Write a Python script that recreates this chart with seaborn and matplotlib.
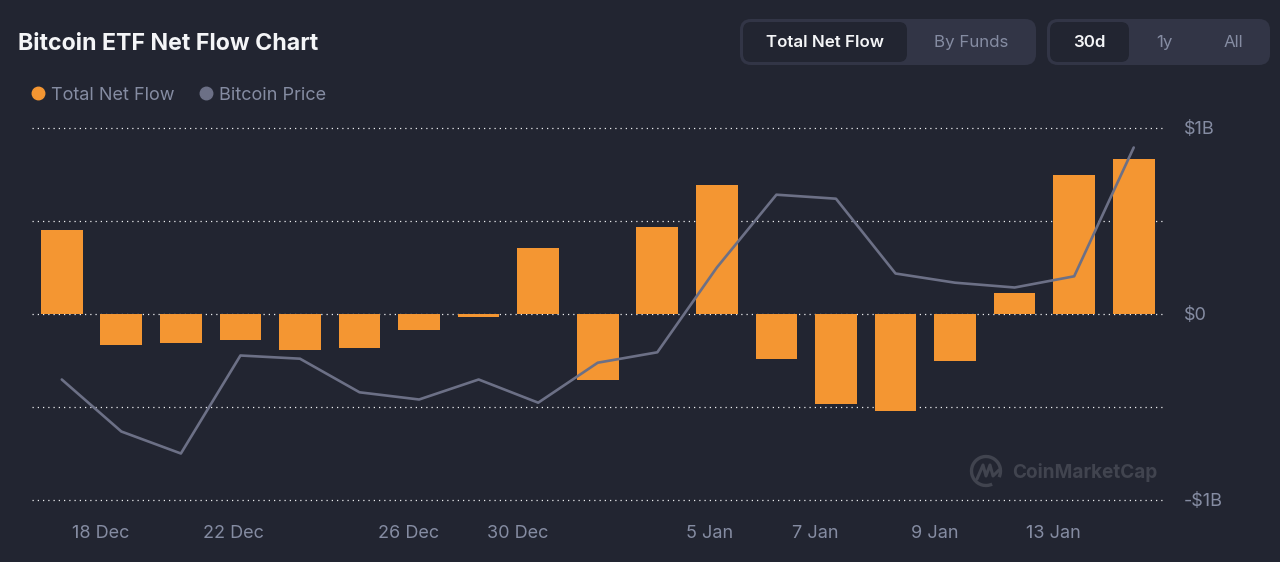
import matplotlib
matplotlib.use("Agg")
import matplotlib.pyplot as plt
import pandas as pd
import seaborn as sns
from matplotlib.lines import Line2D
from matplotlib.patches import Arc, FancyBboxPatch

# daily values
days = ["17 Dec", "18 Dec", "20 Dec", "22 Dec", "23 Dec", "24 Dec", "26 Dec", "27 Dec", "30 Dec", "31 Dec",
        "2 Jan", "5 Jan", "6 Jan", "7 Jan", "8 Jan", "9 Jan", "10 Jan", "13 Jan", "14 Jan"]
net_flow = [0.447, -0.167, -0.161, -0.145, -0.194, -0.183, -0.091, -0.02, 0.35, -0.355,
            0.463, 0.689, -0.242, -0.489, -0.522, -0.253, 0.11, 0.742, 0.828]
# price in $k, its axis is hidden in the original
btc_price = [94.2, 92.9, 92.35, 94.8, 94.72, 93.88, 93.7, 94.2, 93.62, 94.62,
             94.88, 97.0, 98.82, 98.72, 96.85, 96.62, 96.5, 96.78, 100.0]

tick_labels = ["18 Dec", "22 Dec", "26 Dec", "30 Dec", "5 Jan", "7 Jan", "9 Jan", "13 Jan"]
tick_pos = [0.66, 2.89, 5.83, 7.65, 10.88, 12.65, 14.66, 16.65]
y_ticks = [-1, -0.5, 0, 0.5, 1]
y_labels = ["-$1B", "", "$0", "", "$1B"]

BG = "#222531"
PANEL = "#323546"
ORANGE = "#F49632"
LINE = "#6C7086"
GREY = "#858CA2"
WHITE = "#F4F5F7"
MARK = "#41444F"

sns.set_theme(style="dark")
plt.rcParams["font.family"] = ["Inter", "DejaVu Sans"]

df = pd.DataFrame({"day": days, "net_flow": net_flow, "btc_price": btc_price})

fig = plt.figure(figsize=(12.8, 5.62), dpi=100, facecolor=BG)

# header, buttons and watermark sit on a full size layer in pixel coordinates
bg = fig.add_axes([0, 0, 1, 1], zorder=0)
bg.set_xlim(0, 1280)
bg.set_ylim(562, 0)
bg.axis("off")


def button(x0, y0, x1, y1, color, radius):
    bg.add_patch(FancyBboxPatch((x0, y0), x1 - x0, y1 - y0, boxstyle=f"round,pad=0,rounding_size={radius}",
                                fc=color, ec="none"))


button(740, 19, 1036, 65, PANEL, 11)
button(743, 22, 907, 62, BG, 8)
button(1047, 19, 1270, 65, PANEL, 11)
button(1050, 22, 1129, 62, BG, 8)

bg.text(18, 44, "Bitcoin ETF Net Flow Chart", color=WHITE, fontsize=16.7, fontweight="bold", va="center")
bg.text(825, 42.5, "Total Net Flow", color=WHITE, fontsize=12.2, fontweight="semibold", ha="center", va="center")
bg.text(971, 42.5, "By Funds", color=GREY, fontsize=12.2, ha="center", va="center")
bg.text(1089.5, 42.5, "30d", color=WHITE, fontsize=12.2, fontweight="semibold", ha="center", va="center")
bg.text(1164, 42.5, "1y", color=GREY, fontsize=12.2, ha="center", va="center")
bg.text(1233, 42.5, "All", color=GREY, fontsize=12.2, ha="center", va="center")

# CoinMarketCap mark
bg.add_patch(Arc((986, 471), 29, 29, theta1=65, theta2=25, ec=MARK, lw=2.4))
bg.add_line(Line2D([977, 983, 986, 990, 993, 999], [479, 465, 476, 465, 476, 470], color=MARK, lw=2.2))
bg.text(1012, 472, "CoinMarketCap", color=MARK, fontsize=13.7, fontweight="bold", va="center")

ax = fig.add_axes([32 / 1280, 62.5 / 562, 1131.5 / 1280, 372 / 562], zorder=1)
ax.set_facecolor("none")

sns.barplot(data=df, x="day", y="net_flow", color=ORANGE, saturation=1, width=0.7, ax=ax, zorder=3,
            edgecolor="none", linewidth=0)

ax2 = ax.twinx()
ax2.set_zorder(2)
ax2.set_facecolor("none")
sns.lineplot(data=df, x="day", y="btc_price", sort=False, color=LINE, lw=1.9, ax=ax2, errorbar=None)
ax2.set_ylim(91.2, 100.5)
ax2.axis("off")

ax.set_xlim(-0.5, 18.5)
ax.set_ylim(-1, 1)
ax.set_xticks(tick_pos, tick_labels)
ax.set_yticks(y_ticks, y_labels)
# twinx moves the y ticks back to the left
ax.yaxis.tick_right()
ax.tick_params(axis="x", length=0, pad=18, labelcolor=GREY, labelsize=13)
ax.tick_params(axis="y", length=0, pad=14.5, labelcolor=GREY, labelsize=13)
ax.set_xlabel("")
ax.set_ylabel("")
for label in ax.get_yticklabels():
    label.set_ha("left")
ax.grid(False)
ax.grid(axis="y", color="#ECEDF0", lw=0.9, linestyle=(0, (1, 3.2)), zorder=1)
# the lines at +-1B sit on the axes edge
for line in ax.get_ygridlines():
    line.set_clip_on(False)
ax.set_axisbelow(True)
sns.despine(ax=ax, left=True, bottom=True)

handles = [
    Line2D([], [], marker="o", ls="", color=ORANGE, ms=9, label="Total Net Flow"),
    Line2D([], [], marker="o", ls="", color=LINE, ms=9, label="Bitcoin Price"),
]
fig.legend(handles=handles, loc="center left", bbox_to_anchor=(32 / 1280, 1 - 95 / 562), ncol=2, frameon=False,
           fontsize=13, labelcolor=GREY, handlelength=0.7, handletextpad=0.37, columnspacing=1.4, borderpad=0,
           borderaxespad=0)

plt.savefig("out.png", dpi=100, facecolor=BG)
